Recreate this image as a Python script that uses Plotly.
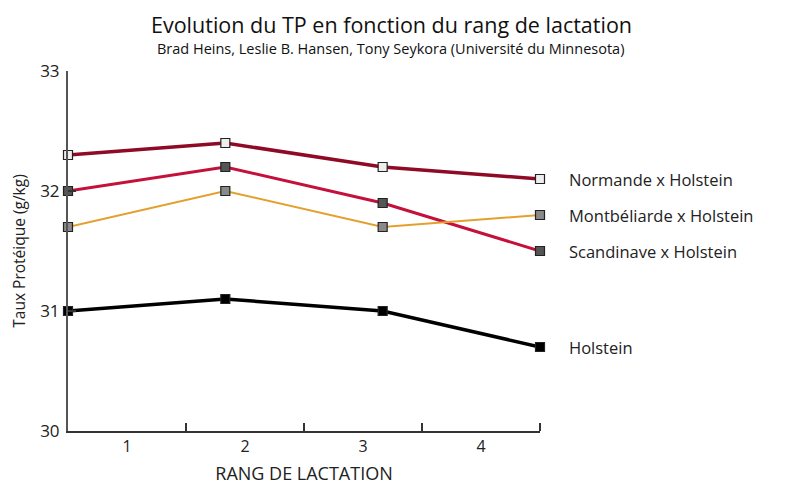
import plotly.graph_objects as go

rangs = [1, 2, 3, 4]
tick_labels = ["1", "2", "3", "4"]
series_names = ["Normande x Holstein", "Montbéliarde x Holstein", "Scandinave x Holstein", "Holstein"]
normande = [32.3, 32.4, 32.2, 32.1]
montbeliarde = [31.7, 32.0, 31.7, 31.8]
scandinave = [32.0, 32.2, 31.9, 31.5]
holstein = [31.0, 31.1, 31.0, 30.7]
y_ticks = [30, 31, 32, 33]
title_text = "Evolution du TP en fonction du rang de lactation"
subtitle_text = "Brad Heins, Leslie B. Hansen, Tony Seykora (Université du Minnesota)"

FONT = "Open Sans"
# page body has an 8px margin, so the figure is drawn slightly smaller
W, H = 803, 487
L, T = 60, 63
PW, PH = 472, 360
R, B = W - L - PW, H - T - PH
OFF = 8


def px_to_paper(sx, sy):
    return (sx - OFF - L) / PW, (H - B - (sy - OFF)) / PH


series = [
    (series_names[2], scandinave, "#c4103a", 3, "#555555"),
    (series_names[1], montbeliarde, "#e3a02e", 2, "#8a8a8a"),
    (series_names[0], normande, "#8e0a26", 3.5, "#eeeeee"),
    (series_names[3], holstein, "#000000", 3.5, "#000000"),
]

fig = go.Figure()
for name, vals, col, w, mfill in series:
    fig.add_trace(go.Scatter(
        x=rangs, y=vals, mode="lines+markers", name=name,
        line=dict(color=col, width=w),
        marker=dict(symbol="square", size=9, color=mfill, line=dict(color="#222222", width=1.2)),
        cliponaxis=False, xaxis="x", yaxis="y", showlegend=False,
    ))
    fig.add_annotation(x=1, xref="paper", xshift=27, y=vals[-1], yref="y",
                       text=name, showarrow=False, xanchor="left", yanchor="middle",
                       font=dict(family=FONT, size=16.5, color="#222222"))

tx, ty = px_to_paper(391, 24.5)
fig.add_annotation(x=tx, xref="paper", y=ty, yref="paper", text=title_text, showarrow=False,
                   xanchor="center", yanchor="middle",
                   font=dict(family=FONT, size=21.5, color="#111111"))
sx, sy = px_to_paper(390, 48)
fig.add_annotation(x=sx, xref="paper", y=sy, yref="paper", text=subtitle_text, showarrow=False,
                   xanchor="center", yanchor="middle",
                   font=dict(family=FONT, size=14.5, color="#111111"))

fig.update_layout(
    width=W, height=H,
    margin=dict(l=L, r=R, t=T, b=B),
    paper_bgcolor="white", plot_bgcolor="white",
    xaxis=dict(range=[rangs[0], rangs[-1]], visible=False, fixedrange=True),
    xaxis2=dict(
        range=[rangs[0] - 0.5, rangs[-1] + 0.5], overlaying="x", automargin=False,
        tickmode="array", tickvals=rangs, ticktext=tick_labels, ticks="",
        showline=True, linecolor="#333333", linewidth=2, showgrid=False, zeroline=False,
        tickfont=dict(family=FONT, size=16, color="#222222"),
        minor=dict(tickmode="array", tickvals=[r + 0.5 for r in rangs], ticks="inside",
                   ticklen=8, tickwidth=1.5, tickcolor="#333333"),
        title=dict(text="RANG DE LACTATION", font=dict(family=FONT, size=18, color="#222222"), standoff=11),
    ),
    yaxis=dict(
        range=[30, 33], tickvals=y_ticks, ticks="inside", ticklen=8, tickwidth=1.5,
        tickcolor="#333333", showline=True, linecolor="#555555", linewidth=2,
        showgrid=False, zeroline=False, automargin=False, ticklabelstandoff=3,
        tickfont=dict(family=FONT, size=17, color="#222222"),
        title=dict(text="Taux Protéique (g/kg)", font=dict(family=FONT, size=15.5, color="#222222"), standoff=14),
    ),
)
fig.add_trace(go.Scatter(x=[None], y=[None], xaxis="x2", yaxis="y", showlegend=False, hoverinfo="skip"))

fig.write_html("out.html")
